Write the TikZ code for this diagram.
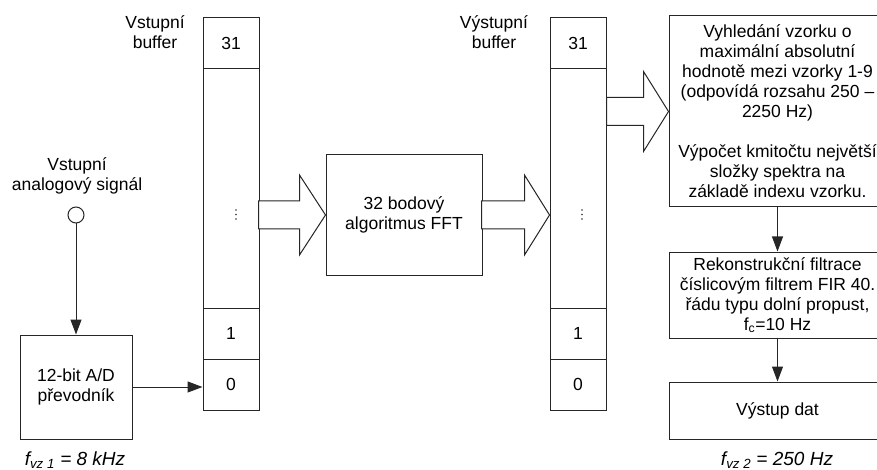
\documentclass[tikz,border=0pt]{standalone}
\usepackage{fontspec}
\setmainfont{Liberation Sans}
\usetikzlibrary{arrows.meta,calc}

\definecolor{linecol}{gray}{0.15}

\begin{document}
\begin{tikzpicture}[x=1pt,y=-1pt,
  every node/.style={font=\fontsize{17.5}{20}\selectfont, text=black},
  block/.style={draw=linecol, line width=1pt, fill=white, inner sep=0pt, align=center},
  cell/.style={block, minimum width=56pt},
  label/.style={align=center, inner sep=0pt},
  conn/.style={draw=linecol, line width=1pt, -{Triangle[length=15pt,width=11pt]}},
  fat/.style={draw=linecol, line width=1pt, fill=white, line join=miter},
  dot/.style={fill=black!80, draw=none}
]
\useasboundingbox (0,0) rectangle (877,470);
\clip (0,0) rectangle (877,470);

% input buffer cells
\node[cell, minimum height=51pt]  (in31)  at (231,43.5)  {31};
\node[cell, minimum height=239pt] (inmid) at (231,188.5) {};
\node[cell, minimum height=51pt]  (in1)   at (231,333.5) {1};
\node[cell, minimum height=51pt]  (in0)   at (231,384.5) {0};
\coordinate (indots) at (236,214.5);
\foreach \d in {-4.5,0,4.5}
  \fill[dot] ($(indots)+(0,\d)$) circle (0.9pt);
\node[label] (inlab) at (155,32) {Vstupní\\buffer};

% output buffer cells
\node[cell, minimum height=51pt]  (out31)  at (578,43.5)  {31};
\node[cell, minimum height=239pt] (outmid) at (578,188.5) {};
\node[cell, minimum height=51pt]  (out1)   at (578,333.5) {1};
\node[cell, minimum height=51pt]  (out0)   at (578,384.5) {0};
\coordinate (outdots) at (582,214.5);
\foreach \d in {-4.5,0,4.5}
  \fill[dot] ($(outdots)+(0,\d)$) circle (0.9pt);
\node[label] (outlab) at (494,32) {Výstupní\\buffer};

% analog input and converter
\node[label] (sig) at (77,176) {Vstupní\\analogový signál};
\node[draw=linecol, line width=1pt, circle, minimum size=16pt, inner sep=0pt] (src) at (76,215) {};
\node[block, minimum width=112pt, minimum height=104pt] (adc) at (76,387) {12-bit A/D\\převodník};
\node[label, font=\fontsize{19}{22}\selectfont\itshape] (f1) at (75,460) {f\textsubscript{vz 1} = 8 kHz};

% FFT
\node[block, minimum width=156pt, minimum height=120pt] (fft) at (404,215) {32 bodový\\algoritmus FFT};

% processing chain
\node[block, minimum width=217pt, minimum height=191pt] (peak) at (777.5,111.5)
  {Vyhledání vzorku o\\maximální absolutní\\hodnotě mezi vzorky 1-9\\(odpovídá rozsahu 250 –\\2250 Hz)\\[20pt]Výpočet kmitočtu největší\\složky spektra na\\základě indexu vzorku.};
\node[block, minimum width=217pt, minimum height=86pt] (fir) at (777.5,295)
  {Rekonstrukční filtrace\\číslicovým filtrem FIR 40.\\řádu typu dolní propust,\\f\textsubscript{c}=10 Hz};
\node[block, minimum width=217pt, minimum height=57pt] (out) at (777.5,410.5) {Výstup dat};
\node[label, font=\fontsize{19}{22}\selectfont\itshape] (f2) at (777,460) {f\textsubscript{vz 2} = 250 Hz};

% thin connectors
\draw[conn] (src.south) -- (adc.north);
\draw[conn] (adc.east) -- (in0.west |- adc.east);
\draw[conn] (peak.south) -- (fir.north);
\draw[conn] (fir.south) -- (out.north);

% block arrows
\draw[fat] (fft.west) -- ++(-26,-40) -- ++(0,26) -- ++(-41,0) -- ++(0,28) -- ++(41,0) -- ++(0,26) -- cycle;
\draw[fat] (outmid.west |- fft.east) -- ++(-25,-40) -- ++(0,26) -- ++(-43,0) -- ++(0,28) -- ++(43,0) -- ++(0,26) -- cycle;
\draw[fat] (peak.west) -- ++(-25,-40) -- ++(0,26) -- ++(-37,0) -- ++(0,28) -- ++(37,0) -- ++(0,26) -- cycle;
\end{tikzpicture}
\end{document}
